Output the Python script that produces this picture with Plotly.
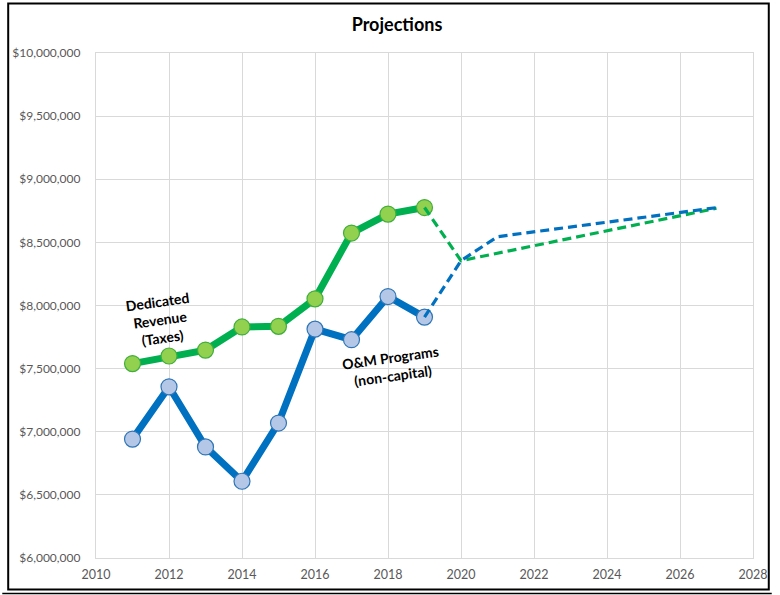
import plotly.graph_objects as go

years_hist = [2011, 2012, 2013, 2014, 2015, 2016, 2017, 2018, 2019]
revenue_hist = [7540000, 7600000, 7647000, 7830000, 7835000, 8053000, 8574000, 8724000, 8776000]
om_hist = [6942000, 7356000, 6880000, 6608000, 7069000, 7813000, 7729000, 8071000, 7908000]

years_rev_proj = [2019, 2020, 2027]
revenue_proj = [8776000, 8355000, 8770000]
years_om_proj = [2019, 2020, 2021, 2027]
om_proj = [7908000, 8355000, 8545000, 8775000]

x_ticks = [2010, 2012, 2014, 2016, 2018, 2020, 2022, 2024, 2026, 2028]
y_ticks = [6000000, 6500000, 7000000, 7500000, 8000000, 8500000, 9000000, 9500000, 10000000]
y_tick_labels = ["$6,000,000", "$6,500,000", "$7,000,000", "$7,500,000", "$8,000,000",
                 "$8,500,000", "$9,000,000", "$9,500,000", "$10,000,000"]

GREEN = "#00B050"
GREEN_FILL = "#92D050"
BLUE = "#0070C0"
BLUE_FILL = "#B4C7E7"
FONT = "Lato"

fig = go.Figure()
fig.add_trace(go.Scatter(
    x=years_hist, y=revenue_hist, mode="lines+markers",
    line=dict(color=GREEN, width=7),
    marker=dict(size=16, color=GREEN_FILL, line=dict(color="#3FAE3A", width=1.2)),
    showlegend=False, hoverinfo="skip"))
fig.add_trace(go.Scatter(
    x=years_hist, y=om_hist, mode="lines+markers",
    line=dict(color=BLUE, width=7),
    marker=dict(size=16, color=BLUE_FILL, line=dict(color="#2E75B6", width=1.2)),
    showlegend=False, hoverinfo="skip"))
fig.add_trace(go.Scatter(
    x=years_rev_proj, y=revenue_proj, mode="lines",
    line=dict(color=GREEN, width=3.2, dash="9px,5px"),
    showlegend=False, hoverinfo="skip"))
fig.add_trace(go.Scatter(
    x=years_om_proj, y=om_proj, mode="lines",
    line=dict(color=BLUE, width=3.2, dash="9px,5px"),
    showlegend=False, hoverinfo="skip"))

L, R, T, B = 95, 19, 53, 37
pw, ph = 780 - L - R, 595 - T - B

def px_x(p):
    return (p - L) / pw

def px_y(p):
    return (595 - B - p) / ph

fig.add_annotation(x=2011.75, y=7890000, text="<b>Dedicated<br>Revenue<br>(Taxes)</b>",
                   showarrow=False, textangle=-8,
                   font=dict(family=FONT, size=14, color="black"))
fig.add_annotation(x=2018.1, y=7520000, text="<b>O&M Programs<br>(non-capital)</b>",
                   showarrow=False, textangle=-8,
                   font=dict(family=FONT, size=14, color="black"))

fig.add_shape(type="rect", xref="paper", yref="paper",
              x0=px_x(6), x1=px_x(777), y0=px_y(589.5), y1=px_y(3.5),
              line=dict(color="black", width=2), fillcolor="rgba(0,0,0,0)", layer="above")
fig.add_shape(type="line", xref="paper", yref="paper",
              x0=px_x(0), x1=px_x(780), y0=px_y(593.5), y1=px_y(593.5),
              line=dict(color="black", width=1.5))

fig.update_layout(
    width=780, height=595,
    margin=dict(l=L, r=R, t=T, b=B),
    paper_bgcolor="white", plot_bgcolor="white",
    title=dict(text="<b>Projections</b>", x=397 / 780, xref="container", xanchor="center",
               y=1 - 25 / 595, yanchor="middle",
               font=dict(family=FONT, size=18, color="black")),
    font=dict(family=FONT, size=12, color="#595959"),
    xaxis=dict(range=[2010, 2028], tickvals=x_ticks, ticktext=[str(v) for v in x_ticks],
               showgrid=True, gridcolor="#D9D9D9", gridwidth=1.3,
               showline=True, linecolor="#D9D9D9", linewidth=1.3, mirror=True,
               zeroline=False, ticks="outside", ticklen=5, tickcolor="rgba(0,0,0,0)",
               tickfont=dict(family=FONT, size=12.5, color="#595959")),
    yaxis=dict(range=[6000000, 10000000], tickvals=y_ticks, ticktext=y_tick_labels,
               showgrid=True, gridcolor="#D9D9D9", gridwidth=1.3,
               showline=True, linecolor="#D9D9D9", linewidth=1.3, mirror=True,
               zeroline=False, ticks="outside", ticklen=12, tickcolor="rgba(0,0,0,0)",
               tickfont=dict(family=FONT, size=12, color="#595959")),
)

fig.write_html("out.html")
